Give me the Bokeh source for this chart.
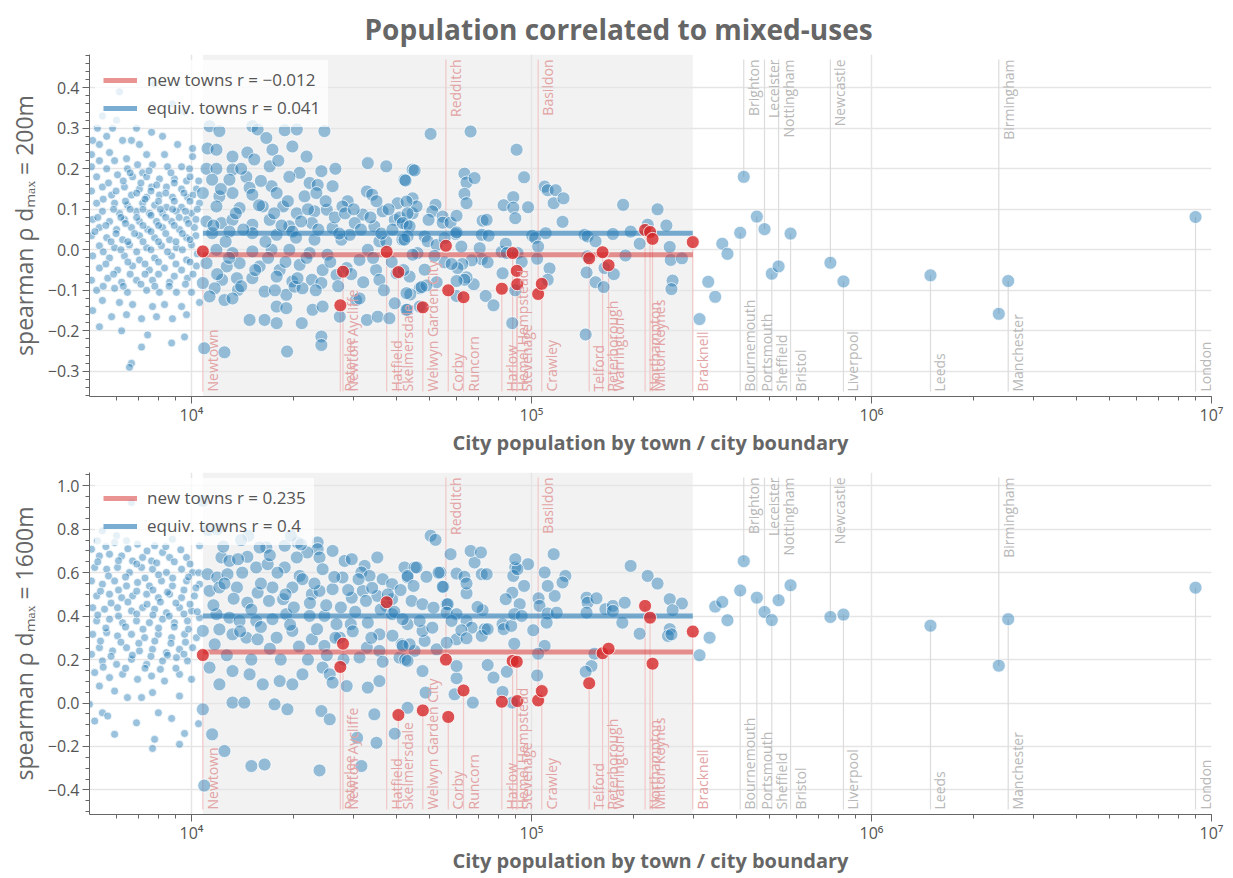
import math
from bokeh.plotting import figure
from bokeh.layouts import column
from bokeh.models import (ColumnDataSource, BoxAnnotation, CustomJSTickFormatter,
                          SingleIntervalTicker, Range1d)
from bokeh.embed import file_html
from bokeh.resources import INLINE

FONT = "Open Sans"
BLUE = "#1f77b4"
RED = "#d62728"

TITLE = "Population correlated to mixed-uses"
X_LABEL = "City population by town / city boundary"
Y_LABEL_200 = "spearman ρ dₘₐₓ = 200m"
Y_LABEL_1600 = "spearman ρ dₘₐₓ = 1600m"

# correlation coefficients shown in the legends
r_new_200, r_equiv_200 = -0.012, 0.041
r_new_1600, r_equiv_1600 = 0.235, 0.4

# ---------------- equivalent towns (population in thousands, spearman rho) -------------
pop_200_k = [
    6.14, 7.79, 8.79, 9.54, 5.47, 6.02, 5.29, 6.89, 7.63, 8.22,
    5.86, 5.63, 6.27, 6.66, 5.12, 7.03, 9.10, 10.07, 5.36, 5.08,
    5.74, 6.44, 7.38, 8.33, 10.07, 5.36, 5.94, 6.94, 7.68, 8.50,
    9.35, 5.08, 5.63, 6.48, 7.18, 9.87, 5.26, 6.06, 6.71, 7.38,
    8.05, 8.91, 9.67, 5.47, 6.35, 7.03, 7.63, 8.44, 9.35, 10.34,
    5.08, 5.82, 6.66, 7.38, 8.05, 8.79, 9.73, 5.26, 5.94, 6.48,
    7.18, 7.79, 8.44, 9.35, 10.56, 5.47, 6.14, 6.89, 7.52, 8.22,
    9.03, 10.0, 5.12, 5.74, 6.35, 7.03, 7.89, 8.74, 9.67, 5.36,
    6.02, 6.66, 7.43, 8.22, 9.22, 10.2, 5.08, 5.63, 6.27, 7.03,
    7.79, 8.62, 9.67, 5.36, 5.94, 6.57, 7.38, 8.16, 9.03, 10.0,
    5.12, 5.74, 6.35, 7.03, 7.79, 8.74, 9.67, 5.36, 6.06, 6.71,
    7.52, 8.33, 9.35, 10.34, 5.08, 5.67, 6.23, 6.89, 7.68, 8.62,
    9.73, 5.26, 5.94, 6.48, 7.38, 8.05, 9.03, 10.0, 10.56, 5.47,
    6.14, 6.71, 7.68, 8.33, 9.35, 5.12, 5.82, 6.44, 7.13, 7.89,
    8.79, 9.67, 5.36, 6.23, 7.43, 8.74, 9.54, 7.13, 6.66, 6.57,
    6.6, 7.5, 8.7, 9.9, 5.7, 6.3, 7.1, 7.9, 8.9, 10.5,
    6.0, 6.9, 7.6, 8.4, 9.5, 10.1, 5.5, 6.4, 7.3, 8.0,
    8.9, 9.9, 5.9, 6.6, 7.2, 8.1, 8.8, 9.6, 10.4, 5.3,
    6.2, 6.9, 7.6, 8.4, 9.2, 10.3, 5.6, 6.4, 7.2, 8.0,
    8.9, 9.8, 5.2, 6.0, 6.8, 7.6, 8.4, 9.4, 10.3, 5.8,
    6.5, 7.2, 8.0, 9.0, 9.9, 5.5, 6.2, 6.9, 7.6, 8.5,
    9.4, 10.4, 5.6, 6.5, 7.3, 8.0, 9.0, 9.9, 5.9, 6.6,
    7.3, 8.0, 8.9, 10.1, 5.5, 6.3, 7.1, 7.8, 8.6, 9.6,
    11.3, 12.08, 11.15, 11.84, 15.1, 15.65, 16.6, 18.8, 20.4, 19.8,
    24.6, 17.3, 14.6, 13.2, 15.3, 11.07, 11.84, 13.2, 14.5, 16.98,
    14.82, 20.8, 24.1, 26.0, 33.0, 37.4, 42.3, 44.7, 11.5, 12.93,
    17.2, 19.4, 22.25, 23.5, 10.8, 12.08, 13.2, 15.1, 17.8, 21.5,
    23.3, 28.8, 32.8, 34.0, 40.4, 11.84, 13.85, 16.2, 18.6, 20.4,
    23.0, 25.0, 27.8, 31.9, 36.5, 39.6, 44.7, 11.07, 12.25, 13.2,
    15.1, 16.98, 19.4, 22.6, 26.0, 30.2, 34.5, 42.9, 11.5, 12.93,
    15.1, 17.8, 19.8, 23.0, 27.6, 29.2, 35.7, 37.4, 41.7, 11.84,
    13.2, 15.1, 17.2, 19.4, 22.25, 25.1, 33.0, 46.2, 11.07, 12.7,
    13.85, 15.86, 18.17, 20.8, 24.3, 28.6, 31.2, 34.9, 40.1, 10.8,
    12.3, 13.6, 15.1, 17.8, 19.8, 22.6, 24.1, 26.7, 35.7, 43.8,
    11.7, 13.7, 16.4, 19.0, 20.1, 21.2, 30.5, 46.9, 11.3, 12.5,
    13.2, 17.8, 19.0, 21.1, 22.7, 24.3, 27.3, 31.2, 32.8, 35.3,
    38.2, 39.6, 43.2, 46.9, 14.82, 16.4, 17.8, 24.1, 24.1, 19.1,
    10.9, 12.5,
    11.6, 12.6, 13.5, 14.2, 15.8, 16.5, 17.5, 18.4, 19.2, 20.3,
    21.0, 22.0, 23.6, 24.8, 26.4, 27.2, 28.3, 30.0, 31.5, 33.6,
    35.0, 36.2, 38.0, 39.0, 41.0, 11.9, 12.9, 14.0, 15.4, 16.8,
    17.6, 18.9, 20.5, 21.8, 23.2, 25.6, 27.0, 29.5, 32.0, 34.2,
    36.8, 38.8, 42.0, 44.0, 12.2, 14.0, 16.0, 18.0, 21.8, 26.5,
    50.5, 66.2, 90.4, 95.1, 45.3, 42.6, 63.5, 64.4, 68.0, 63.5,
    64.4, 109.3, 111.6, 117.8, 116.2, 124.2, 123.4, 186, 234.8, 88.4,
    82.8, 88.4, 97.7, 89.6, 44.7, 45.9, 42.9, 43.2, 52.2, 51.1,
    49.8, 54.8, 54.8, 57.8, 60.2, 41.8, 43.8, 71.8, 73.8, 71.4,
    74.8, 59.8, 60.2, 48.5, 49.5, 52.6, 55.5, 62.2, 70.4, 71.4,
    74.3, 66.7, 62.6, 60.6, 55.5, 58.2, 51.8, 44.7, 43.2, 42.3,
    100.5, 102.5, 104.6, 103.9, 110.1, 113, 111.6, 81.7, 84.0, 84.6,
    91.0, 93.6, 82.2, 89.6, 87.8, 73.3, 77.3, 67.6, 64.4, 63.5,
    60.2, 60.2, 52.6, 49.1, 48.5, 47.5, 42.9, 42.9, 143.3, 146.2,
    154.3, 173.5, 195.7, 219.6, 249.3, 208, 255, 189, 146.2, 145.2,
    164, 174.6, 154.3, 163, 144.3, 256.7, 277, 260, 258, 312,
    331, 347, 364, 377,
]
rho_200 = [
    0.39, 0.41, 0.36, 0.34, 0.33, 0.32, 0.30, 0.30, 0.29, 0.28,
    0.30, 0.28, 0.27, 0.27, 0.27, 0.26, 0.26, 0.25, 0.26, 0.235,
    0.24, 0.225, 0.235, 0.235, 0.23, 0.22, 0.22, 0.21, 0.21, 0.205,
    0.205, 0.205, 0.2, 0.2, 0.19, 0.2, 0.18, 0.185, 0.18, 0.18,
    0.175, 0.175, 0.17, 0.155, 0.155, 0.15, 0.155, 0.155, 0.15, 0.15,
    0.145, 0.135, 0.135, 0.13, 0.135, 0.13, 0.13, 0.115, 0.115, 0.11,
    0.115, 0.11, 0.105, 0.105, 0.115, 0.095, 0.09, 0.095, 0.09, 0.09,
    0.095, 0.09, 0.075, 0.07, 0.075, 0.07, 0.07, 0.07, 0.075, 0.055,
    0.05, 0.055, 0.05, 0.055, 0.05, 0.055, 0.035, 0.03, 0.025, 0.035,
    0.03, 0.025, 0.03, 0.01, 0.005, 0.012, 0.005, 0.01, 0.005, 0.012,
    -0.015, -0.02, -0.015, -0.025, -0.02, -0.015, -0.025, -0.045, -0.05, -0.04,
    -0.05, -0.045, -0.05, -0.04, -0.075, -0.07, -0.08, -0.075, -0.075, -0.08,
    -0.07, -0.1, -0.095, -0.105, -0.1, -0.105, -0.105, -0.105, -0.13, -0.125,
    -0.13, -0.135, -0.14, -0.135, -0.14, -0.15, -0.165, -0.16, -0.17, -0.165,
    -0.17, -0.16, -0.19, -0.2, -0.21, -0.23, -0.215, -0.24, -0.28, -0.29,
    0.19, 0.195, 0.19, 0.18, 0.165, 0.17, 0.165, 0.16, 0.165, 0.17,
    0.145, 0.14, 0.145, 0.14, 0.14, 0.135, 0.125, 0.12, 0.125, 0.12,
    0.12, 0.12, 0.1, 0.1, 0.1, 0.1, 0.1, 0.095, 0.1, 0.08,
    0.08, 0.08, 0.085, 0.08, 0.08, 0.075, 0.06, 0.065, 0.06, 0.06,
    0.06, 0.065, 0.045, 0.04, 0.04, 0.045, 0.04, 0.04, 0.035, 0.02,
    0.02, 0.02, 0.02, 0.02, 0.025, -0.005, 0.0, -0.005, 0.0, -0.005,
    0.0, -0.01, -0.035, -0.03, -0.035, -0.03, -0.035, -0.03, -0.06, -0.06,
    -0.06, -0.06, -0.065, -0.06, -0.09, -0.09, -0.085, -0.09, -0.09, -0.085,
    0.305, 0.293, 0.25, 0.247, 0.305, 0.297, 0.276, 0.295, 0.297, 0.255,
    0.293, 0.247, 0.24, 0.23, 0.223, 0.2, 0.2, 0.198, 0.18, 0.206,
    0.153, 0.19, 0.194, 0.157, 0.214, 0.206, 0.173, 0.198, 0.173, 0.173,
    0.157, 0.18, 0.165, 0.16, 0.14, 0.132, 0.14, 0.136, 0.14, 0.132,
    0.14, 0.12, 0.144, 0.136, 0.115, 0.107, 0.103, 0.107, 0.107, 0.09,
    0.095, 0.099, 0.107, 0.087, 0.095, 0.074, 0.09, 0.07, 0.066, 0.074,
    0.062, 0.074, 0.058, 0.066, 0.054, 0.066, 0.058, 0.062, 0.041, 0.045,
    0.041, 0.037, 0.045, 0.025, 0.025, 0.037, 0.021, 0.02, 0.025, 0.0,
    -0.008, -0.004, 0.0, 0.0, -0.008, -0.012, 0.0, -0.008, -0.033, -0.041,
    -0.033, -0.041, -0.05, -0.037, -0.05, -0.045, -0.025, -0.05, -0.058, -0.082,
    -0.074, -0.07, -0.07, -0.066, -0.078, -0.074, -0.082, -0.062, -0.074, -0.066,
    -0.095, -0.099, -0.103, -0.111, -0.091, -0.095, -0.124, -0.095, -0.115, -0.124,
    -0.12, -0.14, -0.144, -0.181, -0.148, -0.14, -0.165, -0.12, -0.173, -0.165,
    -0.169, -0.132, -0.148, -0.14, -0.173, -0.173, -0.181, -0.214, -0.235, -0.251,
    -0.243, -0.253,
    0.06, 0.02, 0.09, 0.05, 0.11, 0.02, 0.09, 0.06, 0.12, 0.03,
    0.07, 0.1, 0.05, 0.12, 0.08, 0.04, 0.09, 0.1, 0.05, 0.08,
    0.12, 0.04, 0.1, 0.05, 0.08, -0.06, -0.02, -0.09, -0.05, -0.02,
    -0.1, -0.03, -0.07, -0.02, -0.1, -0.03, -0.09, -0.06, -0.08, -0.02,
    -0.1, -0.03, -0.05, -0.11, 0.15, 0.2, 0.17, 0.22, 0.23, 0.2,
    0.286, 0.292, 0.247, 0.179, 0.196, 0.171, 0.188, 0.166, 0.177, 0.138,
    0.115, 0.156, 0.147, 0.147, 0.115, 0.127, 0.069, 0.111, 0.1, 0.13,
    0.11, 0.104, 0.105, 0.078, 0.127, 0.107, 0.119, 0.09, 0.111, 0.095,
    0.074, 0.082, 0.067, 0.067, 0.084, 0.066, 0.058, 0.072, 0.074, 0.037,
    0.035, 0.039, 0.043, 0.033, 0.021, 0.012, 0.029, 0.008, 0.004, -0.023,
    -0.031, -0.026, -0.035, -0.045, -0.031, -0.035, -0.015, -0.012, 0.033, 0.025,
    0.035, 0.029, 0.008, -0.022, 0.041, -0.046, -0.074, -0.005, 0.015, -0.008,
    -0.008, -0.03, -0.058, -0.1, -0.181, -0.114, -0.137, -0.085, -0.068, -0.074,
    -0.077, -0.114, -0.08, -0.088, -0.049, -0.092, -0.107, -0.148, 0.037, 0.033,
    0.021, 0.039, 0.045, 0.062, 0.06, 0.015, 0.007, -0.014, -0.016, -0.056,
    -0.045, -0.06, -0.08, -0.092, -0.209, -0.025, -0.021, -0.076, -0.097, -0.171,
    -0.079, -0.116, 0.015, -0.01,
]

pop_1600_k = [
    6.66, 5.47, 6.02, 5.29, 5.94, 6.44, 6.94, 7.79, 8.79, 5.08,
    5.36, 5.74, 6.23, 6.71, 7.18, 7.63, 8.22, 8.62, 9.67, 10.56,
    5.19, 5.63, 6.06, 6.57, 7.13, 7.68, 8.44, 9.35, 10.07, 5.08,
    5.47, 5.94, 6.44, 6.94, 7.52, 8.16, 8.79, 9.67, 10.56, 5.26,
    5.74, 6.23, 6.71, 7.38, 7.99, 8.62, 9.35, 10.2, 5.12, 5.55,
    6.06, 6.66, 7.18, 7.79, 8.44, 9.22, 10.0, 5.26, 5.74, 6.27,
    6.89, 7.52, 8.22, 8.91, 9.73, 10.56, 5.12, 5.63, 6.06, 6.66,
    7.28, 7.99, 8.74, 9.54, 10.34, 5.36, 5.86, 6.44, 7.03, 7.68,
    8.44, 9.22, 10.07, 5.08, 5.47, 6.02, 6.66, 7.38, 8.22, 9.03,
    9.73, 5.19, 5.74, 6.27, 6.94, 7.63, 8.33, 9.22, 10.0, 5.36,
    5.94, 6.48, 7.13, 7.68, 9.22, 5.01, 5.47, 5.67, 6.89, 7.99,
    8.74, 5.19, 5.94, 7.79, 7.68, 9.22, 9.54, 10.49,
    5.6, 6.5, 7.4, 8.4, 9.3, 5.3, 6.1, 6.9, 7.9, 8.9,
    9.9, 5.7, 6.4, 7.3, 8.0, 8.8, 9.8, 10.5, 5.4, 6.1,
    6.9, 7.7, 8.5, 9.5, 10.3, 5.8, 6.5, 7.4, 8.1, 9.0,
    9.9, 5.3, 6.1, 6.9, 7.7, 8.6, 9.5, 10.4, 5.6, 6.4,
    7.2, 8.0, 8.9, 9.8, 5.4, 6.2, 7.0, 7.8, 8.7, 9.6,
    5.8, 6.7, 7.6, 8.5, 9.5, 5.5, 6.4, 7.3, 8.1, 9.0,
    10.8, 11.2, 11.9, 14.7, 16.6, 18.8, 20.5, 19.6, 23.5, 23.5,
    23.8, 21.9, 15.86, 14.6, 12.25, 12.93, 13.7, 15.5, 16.75, 18.8,
    20.4, 20.8, 24.3, 28.2, 29.6, 32.3, 35.2, 27.8, 31.6, 33.4,
    36.5, 42.3, 45.3, 43.2, 38.9, 11.15, 11.9, 12.76, 11.3, 12.08,
    13.6, 14.6, 15.65, 17.3, 18.6, 19.8, 22.6, 23.8, 26.0, 29.6,
    31.9, 35.2, 37.4, 38.9, 44.4, 11.84, 12.93, 13.85, 15.5, 17.3,
    19.0, 22.25, 24.6, 26.7, 29.4, 33.0, 35.7, 38.9, 43.2, 10.8,
    12.08, 13.2, 14.5, 15.65, 17.8, 19.8, 22.6, 24.6, 27.3, 32.8,
    35.7, 41.5, 45.3, 11.3, 12.08, 13.2, 14.82, 16.2, 18.17, 19.8,
    21.2, 24.3, 25.5, 26.0, 28.6, 33.0, 35.7, 40.9, 13.2, 14.3,
    17.55, 19.15, 24.1, 25.5, 34.5, 43.2, 10.8, 11.5, 12.5, 15.0,
    16.4, 23.8, 30.7, 31.6, 35.0, 39.6, 10.9,
    11.6, 12.5, 13.3, 14.1, 15.0, 16.0, 16.9, 17.9, 18.9, 20.0,
    21.2, 22.3, 23.0, 24.9, 26.3, 27.5, 28.9, 30.3, 31.0, 32.6,
    34.0, 36.0, 37.8, 39.5, 41.2, 11.7, 12.7, 13.9, 15.0, 16.0,
    17.0, 18.3, 19.5, 20.7, 22.0, 23.4, 25.0, 26.5, 28.0, 29.8,
    31.2, 33.8, 36.5, 39.0, 42.5, 12.4, 14.0, 17.0, 21.0, 26.0,
    43.2, 45.0, 49.1, 54.0, 47.8, 51.5, 56.3, 41.8, 48.5, 52.6,
    60.2, 56.3, 43.2, 47.8, 48.8, 43.8, 41.8, 47.8, 51.1, 46.9,
    68.0, 89.6, 97.7, 60.2, 63.5, 71.4, 73.8, 88.4, 90.9, 109.3,
    125.8, 123.4, 117.0, 111.6, 95.1, 87.8, 84.0, 64.4, 55.1, 104.9,
    105.6, 92.3, 71.8, 69.4, 56.7, 56.3, 60.2, 64.4, 58.2, 66.7,
    62.2, 64.4, 72.8, 71.4, 74.3, 82.2, 82.8, 87.2, 89.0, 93.6,
    101.2, 111.6, 118.6, 110.8, 109.3, 104.6, 89.0, 84.6, 82.2, 87.8,
    77.3, 74.3, 67.2, 60.2, 59.4, 60.2, 103.9, 145.2, 146.2, 155.3,
    145.2, 165, 173.5, 173.5, 188, 195.7, 219.6, 234.8, 185, 208,
    255, 277, 260, 255, 252, 258, 153.2, 150.1, 144.3, 312,
    334, 347, 364, 377,
    50.5, 52.2, 57.8, 66.2, 71.0, 116.2, 89.6, 45.9, 53.3, 54.8, 64.4,
]
rho_1600 = [
    0.923, 0.793, 0.77, 0.747, 0.739, 0.747, 0.731, 0.724, 0.754, 0.708,
    0.677, 0.685, 0.677, 0.654, 0.67, 0.654, 0.693, 0.67, 0.67, 0.724,
    0.624, 0.616, 0.624, 0.601, 0.624, 0.616, 0.601, 0.616, 0.601, 0.562,
    0.547, 0.562, 0.539, 0.555, 0.539, 0.562, 0.539, 0.562, 0.547, 0.493,
    0.501, 0.485, 0.493, 0.501, 0.485, 0.501, 0.485, 0.493, 0.439, 0.432,
    0.439, 0.424, 0.439, 0.432, 0.416, 0.439, 0.424, 0.378, 0.386, 0.37,
    0.378, 0.37, 0.386, 0.37, 0.378, 0.393, 0.316, 0.324, 0.309, 0.316,
    0.301, 0.316, 0.301, 0.316, 0.301, 0.255, 0.24, 0.255, 0.24, 0.247,
    0.232, 0.247, 0.255, 0.224, 0.194, 0.178, 0.201, 0.178, 0.194, 0.209,
    0.194, 0.14, 0.117, 0.132, 0.109, 0.124, 0.101, 0.132, 0.109, 0.078,
    0.055, 0.025, 0.025, 0.048, 0.032, -0.006, -0.045, -0.06, -0.091, -0.045,
    -0.071, -0.083, -0.144, -0.167, -0.209, -0.19, -0.14, -0.095,
    0.72, 0.71, 0.7, 0.72, 0.705, 0.65, 0.655, 0.64, 0.645, 0.65,
    0.64, 0.585, 0.58, 0.575, 0.59, 0.575, 0.58, 0.6, 0.515, 0.52,
    0.515, 0.52, 0.51, 0.52, 0.53, 0.46, 0.465, 0.455, 0.465, 0.46,
    0.455, 0.405, 0.4, 0.41, 0.405, 0.4, 0.41, 0.42, 0.345, 0.35,
    0.34, 0.345, 0.35, 0.34, 0.285, 0.28, 0.275, 0.285, 0.275, 0.28,
    0.215, 0.22, 0.215, 0.22, 0.225, 0.165, 0.16, 0.16, 0.155, 0.16,
    0.931, 0.796, 0.8, 0.77, 0.716, 0.724, 0.739, 0.77, 0.739, 0.708,
    0.67, 0.693, 0.716, 0.673, 0.67, 0.654, 0.662, 0.624, 0.639, 0.624,
    0.67, 0.585, 0.616, 0.654, 0.662, 0.631, 0.67, 0.578, 0.601, 0.585,
    0.57, 0.624, 0.624, 0.578, 0.547, 0.593, 0.578, 0.593, 0.516, 0.532,
    0.532, 0.462, 0.508, 0.532, 0.478, 0.532, 0.501, 0.516, 0.524, 0.485,
    0.516, 0.493, 0.447, 0.478, 0.47, 0.409, 0.393, 0.378, 0.378, 0.386,
    0.409, 0.401, 0.401, 0.363, 0.363, 0.37, 0.316, 0.409, 0.363, 0.332,
    0.339, 0.316, 0.301, 0.293, 0.301, 0.332, 0.293, 0.263, 0.301, 0.255,
    0.24, 0.27, 0.24, 0.163, 0.086, 0.147, 0.132, 0.086, 0.101, 0.086,
    0.132, 0.163, 0.132, 0.094, 0.078, 0.071, 0.101, 0.209, 0.002, 0.002,
    -0.006, -0.029, -0.037, -0.075, -0.052, -0.022, -0.029, -0.144, -0.221, -0.29,
    -0.283, -0.31, -0.16, -0.29, -0.183, -0.141, -0.38,
    0.45, 0.55, 0.48, 0.6, 0.43, 0.55, 0.47, 0.6, 0.5, 0.44,
    0.57, 0.46, 0.55, 0.45, 0.58, 0.44, 0.52, 0.42, 0.57, 0.47,
    0.53, 0.43, 0.5, 0.42, 0.52, 0.27, 0.22, 0.33, 0.2, 0.35,
    0.25, 0.2, 0.36, 0.26, 0.2, 0.34, 0.22, 0.3, 0.2, 0.33,
    0.21, 0.3, 0.19, 0.31, 0.2, 0.72, 0.75, 0.68, 0.73, 0.7,
    0.585, 0.539, 0.581, 0.601, 0.455, 0.439, 0.455, 0.386, 0.286, 0.247,
    0.293, 0.278, 0.194, 0.147, 0.048, 0.27, 0.263, 0.332, 0.347, 0.378,
    0.647, 0.624, 0.639, 0.596, 0.581, 0.593, 0.593, 0.585, 0.616, 0.601,
    0.585, 0.555, 0.493, 0.539, 0.539, 0.508, 0.478, 0.505, 0.535, 0.482,
    0.447, 0.455, 0.427, 0.442, 0.455, 0.416, 0.409, 0.378, 0.378, 0.347,
    0.335, 0.298, 0.34, 0.309, 0.34, 0.363, 0.34, 0.355, 0.409, 0.401,
    0.335, 0.412, 0.416, 0.37, 0.263, 0.227, 0.273, 0.144, 0.051, 0.002,
    0.117, 0.175, 0.002, 0.114, 0.04, 0.17, 0.127, 0.485, 0.462, 0.482,
    0.416, 0.432, 0.447, 0.424, 0.462, 0.631, 0.585, 0.55, 0.37, 0.319,
    0.478, 0.458, 0.427, 0.34, 0.309, 0.316, 0.227, 0.17, 0.144, 0.22,
    0.301, 0.444, 0.465, 0.381,
    0.77, 0.751, 0.685, 0.70, 0.693, 0.685, 0.662, 0.624, 0.60, 0.535, 0.55,
]

# ---------------- named new towns and cities ----------------
town_names = [
    "Newtown", "Peterlee", "Newton Aycliffe", "Hatfield", "Skelmersdale",
    "Welwyn Garden City", "Redditch", "Corby", "Runcorn", "Harlow",
    "Hemel Hempstead", "Stevenage", "", "Basildon", "Crawley",
    "Telford", "Peterborough", "Warrington", "Northampton", "Milton Keynes",
    "", "Bracknell",
    "Bournemouth", "Brighton", "Portsmouth", "Leceister", "Sheffield",
    "Nottingham", "Bristol", "Newcastle", "Liverpool", "Leeds",
    "Birmingham", "Manchester", "London",
]
town_pop_k = [
    10.8, 27.4, 27.9, 37.5, 40.6,
    47.9, 56.0, 56.9, 63.1, 81.8,
    88.0, 90.5, 90.8, 104.6, 107.2,
    147.8, 161.8, 168.5, 215.8, 223.2,
    227.0, 298.1,
    411, 421, 460, 484.5, 509,
    533, 578, 757, 827, 1491,
    2368, 2524, 8975,
]
town_rho_200 = [
    -0.004, -0.137, -0.054, -0.005, -0.055,
    -0.142, 0.010, -0.100, -0.117, -0.096,
    -0.008, -0.052, -0.085, -0.109, -0.084,
    -0.021, -0.006, -0.038, 0.049, 0.044,
    0.027, 0.019,
    0.042, 0.180, 0.082, 0.051, -0.059,
    -0.041, 0.040, -0.032, -0.078, -0.063,
    -0.158, -0.077, 0.081,
]
town_rho_1600 = [
    0.221, 0.166, 0.273, 0.464, -0.055,
    -0.034, 0.200, -0.064, 0.058, 0.006,
    0.194, 0.190, 0.009, 0.012, 0.055,
    0.091, 0.229, 0.250, 0.447, 0.393,
    0.181, 0.329,
    0.518, 0.653, 0.485, 0.419, 0.382,
    0.473, 0.542, 0.396, 0.407, 0.356,
    0.172, 0.386, 0.531,
]
town_kind = ["new"] * 22 + ["city"] * 13
town_label_at = [
    "bottom", "bottom", "bottom", "bottom", "bottom",
    "bottom", "top", "bottom", "bottom", "bottom",
    "bottom", "bottom", "bottom", "top", "bottom",
    "bottom", "bottom", "bottom", "bottom", "bottom",
    "bottom", "bottom",
    "bottom", "top", "bottom", "top", "bottom",
    "top", "bottom", "top", "bottom", "bottom",
    "top", "bottom", "bottom",
]

X_LO, X_HI = 10 ** 3.7, 1e7
FRAME_W, FRAME_H = 1122, 342

new_pops = [p * 1000 for p, k in zip(town_pop_k, town_kind) if k == "new"]
band_lo, band_hi = min(new_pops), max(new_pops)


def fmt_r(v):
    return str(v).replace("-", "−")


def make_panel(pop_k, rho, town_rho, r_new, r_equiv, y_lo, y_hi, interval, n_minor,
               ylabel, border_top, border_bottom, title=None):
    p = figure(frame_width=FRAME_W, frame_height=FRAME_H, x_axis_type="log",
               x_range=Range1d(X_LO, X_HI), y_range=Range1d(y_lo, y_hi),
               output_backend="svg", toolbar_location=None, title=title,
               min_border_left=89, min_border_right=15,
               min_border_top=border_top, min_border_bottom=border_bottom)
    p.outline_line_color = None
    p.add_layout(BoxAnnotation(left=band_lo, right=band_hi, fill_color="#f2f2f2",
                               fill_alpha=1.0, line_color=None, level="image"))

    pad = 5 * (y_hi - y_lo) / FRAME_H
    tx = [k * 1000 for k in town_pop_k]
    y_end = [y_lo + pad if at == "bottom" else y_hi - pad for at in town_label_at]
    line_col = ["#f0c6c6" if k == "new" else "#dcdcdc" for k in town_kind]
    text_col = ["#e3a3a4" if k == "new" else "#b8b8b8" for k in town_kind]
    tsrc = ColumnDataSource(dict(x=tx, y=town_rho, y_end=y_end, lc=line_col))
    p.segment(x0="x", y0="y", x1="x", y1="y_end", line_color="lc", line_width=1.2,
              source=tsrc)

    xs = [k * 1000 for k in pop_k]
    sizes = [13 if x >= band_lo else 8 for x in xs]
    src = ColumnDataSource(dict(x=xs, y=rho, size=sizes))
    p.scatter("x", "y", size="size", source=src, fill_color=BLUE, fill_alpha=0.45,
              line_color="white", line_width=0.8, line_alpha=0.9)

    cx = [x for x, k in zip(tx, town_kind) if k == "city"]
    cy = [y for y, k in zip(town_rho, town_kind) if k == "city"]
    p.scatter(cx, cy, size=13, fill_color=BLUE, fill_alpha=0.45, line_color="white",
              line_width=0.8, line_alpha=0.9)

    p.line([band_lo, band_hi], [r_new, r_new], line_color=RED, line_alpha=0.5,
           line_width=5, legend_label=f"new towns r = {fmt_r(r_new)}")
    p.line([band_lo, band_hi], [r_equiv, r_equiv], line_color=BLUE, line_alpha=0.6,
           line_width=5, legend_label=f"equiv. towns r = {fmt_r(r_equiv)}")

    nx = [x for x, k in zip(tx, town_kind) if k == "new"]
    ny = [y for y, k in zip(town_rho, town_kind) if k == "new"]
    p.scatter(nx, ny, size=13, fill_color=RED, fill_alpha=0.8, line_color="white",
              line_width=0.8)

    for at, align in (("bottom", "left"), ("top", "right")):
        idx = [i for i, a in enumerate(town_label_at) if a == at]
        lsrc = ColumnDataSource(dict(x=[tx[i] for i in idx],
                                     y=[y_end[i] for i in idx],
                                     t=[town_names[i] for i in idx],
                                     c=[text_col[i] for i in idx]))
        p.text("x", "y", text="t", source=lsrc, angle=math.pi / 2,
               text_align=align, text_baseline="top", text_color="c",
               text_font={"value": FONT}, text_font_size="14px", x_offset=0)

    # axes
    p.xaxis.formatter = CustomJSTickFormatter(code="""
        const sup = {"0":"⁰","1":"¹","2":"²","3":"³","4":"⁴","5":"⁵","6":"⁶","7":"⁷","8":"⁸","9":"⁹","-":"⁻"};
        const e = Math.round(Math.log10(tick));
        return "10" + String(e).split("").map(c => sup[c]).join("");
    """)
    yt = SingleIntervalTicker(interval=interval, num_minor_ticks=n_minor)
    p.yaxis.ticker = yt
    p.ygrid.ticker = yt
    p.yaxis.formatter = CustomJSTickFormatter(code="""
        const v = Math.abs(tick) < 1e-9 ? 0 : tick;
        return v.toFixed(1).replace("-", "−");
    """)
    p.xaxis.axis_label = X_LABEL
    p.yaxis.axis_label = ylabel
    for ax in (p.xaxis, p.yaxis):
        ax.axis_label_text_font = FONT
        ax.axis_label_text_color = "#666666"
        ax.major_label_text_font = FONT
        ax.major_label_text_font_size = "16px"
        ax.major_label_text_color = "#555555"
        ax.axis_line_color = "#666666"
        ax.major_tick_line_color = "#666666"
        ax.minor_tick_line_color = "#666666"
        ax.major_tick_in = 0
        ax.major_tick_out = 7
        ax.minor_tick_in = 0
        ax.minor_tick_out = 4
    p.xaxis.axis_label_text_font_size = "20px"
    p.yaxis.axis_label_text_font_size = "23px"
    p.xaxis.axis_label_text_font_style = "bold"
    p.yaxis.axis_label_text_font_style = "normal"
    p.xaxis.major_label_standoff = 0
    p.yaxis.major_label_standoff = 3
    p.xaxis.axis_label_standoff = 0
    p.yaxis.axis_label_standoff = 5
    p.grid.grid_line_color = "#e5e5e5"
    p.grid.grid_line_width = 1.5

    lg = p.legend[0]
    lg.location = "top_left"
    lg.background_fill_color = "white"
    lg.background_fill_alpha = 0.75
    lg.border_line_alpha = 0
    lg.label_text_font = FONT
    lg.label_text_font_size = "17px"
    lg.label_text_color = "#555555"
    lg.glyph_width = 34
    lg.glyph_height = 20
    lg.spacing = 5
    lg.padding = 8
    lg.margin = 6
    lg.label_standoff = 10

    if title is not None:
        p.title.text_font = FONT
        p.title.text_font_size = "28px"
        p.title.text_font_style = "bold"
        p.title.text_color = "#666666"
        p.title.align = "left"
        p.title.offset = 275
        p.title.standoff = 14
    return p


p1 = make_panel(pop_200_k, rho_200, town_rho_200, r_new_200, r_equiv_200,
                -0.362, 0.482, 0.1, 5, Y_LABEL_200, 54, 56, title=TITLE)
p2 = make_panel(pop_1600_k, rho_1600, town_rho_1600, r_new_1600, r_equiv_1600,
                -0.513, 1.061, 0.2, 4, Y_LABEL_1600, 14, 56)

layout = column(p1, p2)
open("out.html", "w").write(file_html(layout, INLINE, title=TITLE))
